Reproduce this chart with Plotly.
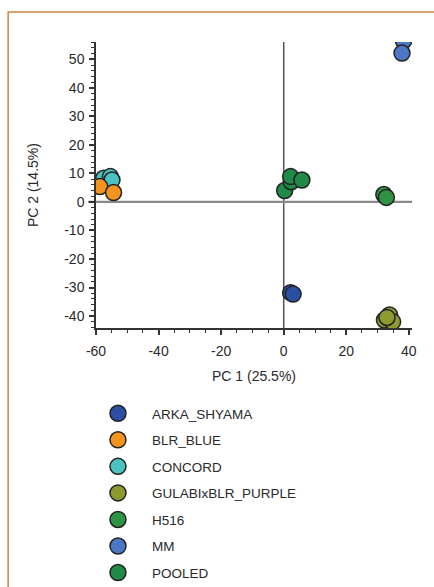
import plotly.graph_objects as go

groups = ["ARKA_SHYAMA", "BLR_BLUE", "CONCORD", "GULABIxBLR_PURPLE", "H516", "MM", "POOLED"]
colors = ["#2a4fa3", "#f4941f", "#4cc3c3", "#8e9a30", "#2e9342", "#4a78c6", "#1f8b47"]
pc1 = {
    "ARKA_SHYAMA": [2.2, 3.0],
    "BLR_BLUE": [-58.8, -54.4],
    "CONCORD": [-57.5, -55.4, -54.9],
    "GULABIxBLR_PURPLE": [33.8, 32.2, 34.8, 33.0],
    "H516": [32.0, 32.8],
    "MM": [38.3, 37.8],
    "POOLED": [0.3, 2.4, 2.2, 5.8],
}
pc2 = {
    "ARKA_SHYAMA": [-31.8, -32.3],
    "BLR_BLUE": [5.4, 3.3],
    "CONCORD": [8.3, 8.9, 7.7],
    "GULABIxBLR_PURPLE": [-39.6, -41.4, -42.0, -40.5],
    "H516": [2.6, 1.6],
    "MM": [56.5, 52.2],
    "POOLED": [4.0, 7.1, 8.9, 7.7],
}
x_ticks = [-60, -40, -20, 0, 20, 40]
x_tick_labels = ["-60", "-40", "-20", "0", "20", "40"]
y_ticks = [-40, -30, -20, -10, 0, 10, 20, 30, 40, 50]
y_tick_labels = ["-40", "-30", "-20", "-10", "0", "10", "20", "30", "40", "50"]
x_title = "PC 1 (25.5%)"
y_title = "PC 2 (14.5%)"
draw_order = ["CONCORD", "BLR_BLUE", "ARKA_SHYAMA", "GULABIxBLR_PURPLE", "H516", "MM", "POOLED"]

FONT = "Liberation Sans, Arial, sans-serif"
TXT = "#2a2a2a"
fig = go.Figure()
for g in draw_order:
    i = groups.index(g)
    fig.add_trace(go.Scatter(
        x=pc1[g], y=pc2[g], mode="markers", name=g,
        legendrank=i + 1, legendgroup=g,
        marker=dict(size=16, color=colors[i], line=dict(color="#222222", width=1.5)),
    ))

axis_common = dict(
    showgrid=False, zeroline=False, showline=True, linecolor="#333333", linewidth=1.5,
    ticks="outside", ticklen=5, tickwidth=1.5, tickcolor="#333333",
    tickfont=dict(family=FONT, size=14, color=TXT),
    title_font=dict(family=FONT, size=14, color=TXT),
    tickmode="array",
)
fig.update_xaxes(range=[-60, 41], tickvals=x_ticks, ticktext=x_tick_labels,
                 title_text=x_title, title_standoff=14, ticklabelstandoff=4,
                 minor=dict(ticks="outside", ticklen=3, dtick=5, tick0=0, tickcolor="#333333", tickwidth=1),
                 **axis_common)
fig.update_yaxes(range=[-44.2, 56.1], tickvals=y_ticks, ticktext=y_tick_labels,
                 ticklabelstandoff=2,
                 minor=dict(ticks="outside", ticklen=3, dtick=2, tick0=0, tickcolor="#333333", tickwidth=1),
                 **axis_common)

fig.add_annotation(text=y_title, xref="paper", yref="paper", x=-0.199, y=0.5,
                   textangle=-90, showarrow=False, xanchor="center", yanchor="middle",
                   font=dict(family=FONT, size=14, color=TXT))

# reference lines at zero
fig.add_shape(type="line", xref="x", yref="paper", x0=0, x1=0, y0=0, y1=1,
              line=dict(color="#555555", width=1.5), layer="below")
fig.add_shape(type="line", xref="paper", yref="y", x0=-0.025, x1=1, y0=0, y1=0,
              line=dict(color="#8a8a8a", width=2.2), layer="below")
# orange frame
fig.add_shape(type="rect", xref="paper", yref="paper", x0=-0.278, x1=1.3, y0=-1.5, y1=1.105,
              line=dict(color="#d0823e", width=1.5), fillcolor="rgba(0,0,0,0)")

fig.update_layout(
    width=434, height=587,
    margin=dict(l=96, r=22, t=42, b=259, autoexpand=False),
    paper_bgcolor="white", plot_bgcolor="white",
    font=dict(family=FONT, size=13, color=TXT),
    showlegend=True,
    legend=dict(xref="container", yref="container", x=0.1935, y=0.322,
                xanchor="left", yanchor="top",
                traceorder="grouped", tracegroupgap=6, itemwidth=58,
                font=dict(family=FONT, size=13.5, color=TXT),
                bgcolor="rgba(0,0,0,0)", itemsizing="trace"),
)
fig.write_html("out.html")
